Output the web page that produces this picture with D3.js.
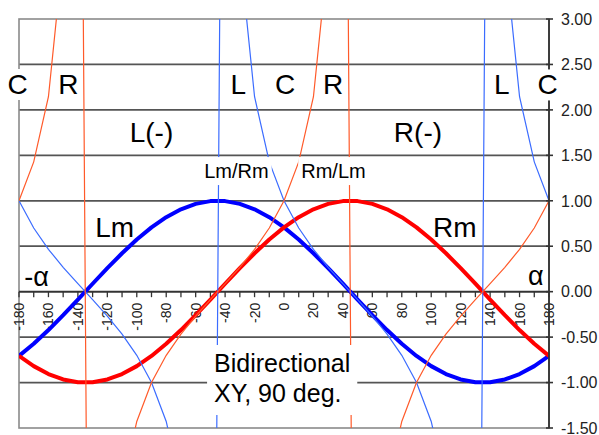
<!DOCTYPE html>
<html>
<head>
<meta charset="utf-8">
<script src="https://cdn.jsdelivr.net/npm/d3@7"></script>
<style>
  html, body { margin: 0; padding: 0; background: #fff; }
  svg { display: block; font-family: "Liberation Sans", Arial, Helvetica, sans-serif; }
</style>
</head>
<body>
<svg id="chart" width="599" height="435"></svg>
<script>
// Phase angle (degrees) at which each sample is taken
const angles = [-180, -170, -160, -150, -140, -130, -120, -110, -100, -90,
                -80, -70, -60, -50, -40, -30, -20, -10, 0, 10, 20, 30, 40,
                50, 60, 70, 80, 90, 100, 110, 120, 130, 140, 150, 160, 170, 180];

// Left microphone response
const lm = [-0.7071, -0.5736, -0.4226, -0.2588, -0.0872, 0.0872, 0.2588, 0.4226,
            0.5736, 0.7071, 0.8192, 0.9063, 0.9659, 0.9962, 0.9962, 0.9659,
            0.9063, 0.8192, 0.7071, 0.5736, 0.4226, 0.2588, 0.0872, -0.0872,
            -0.2588, -0.4226, -0.5736, -0.7071, -0.8192, -0.9063, -0.9659,
            -0.9962, -0.9962, -0.9659, -0.9063, -0.8192, -0.7071];

// Right microphone response
const rm = [-0.7071, -0.8192, -0.9063, -0.9659, -0.9962, -0.9962, -0.9659, -0.9063,
            -0.8192, -0.7071, -0.5736, -0.4226, -0.2588, -0.0872, 0.0872, 0.2588,
            0.4226, 0.5736, 0.7071, 0.8192, 0.9063, 0.9659, 0.9962, 0.9962,
            0.9659, 0.9063, 0.8192, 0.7071, 0.5736, 0.4226, 0.2588, 0.0872,
            -0.0872, -0.2588, -0.4226, -0.5736, -0.7071];

// Ratio Lm/Rm
const lmOverRm = [1, 0.7002, 0.4663, 0.2679, 0.0875, -0.0875, -0.2679, -0.4663,
                  -0.7002, -1, -1.4281, -2.1445, -3.7321, -11.4301, 11.4301, 3.7321,
                  2.1445, 1.4281, 1, 0.7002, 0.4663, 0.2679, 0.0875, -0.0875,
                  -0.2679, -0.4663, -0.7002, -1, -1.4281, -2.1445, -3.7321,
                  -11.4301, 11.4301, 3.7321, 2.1445, 1.4281, 1];

// Ratio Rm/Lm
const rmOverLm = [1, 1.4281, 2.1445, 3.7321, 11.4301, -11.4301, -3.7321, -2.1445,
                  -1.4281, -1, -0.7002, -0.4663, -0.2679, -0.0875, 0.0875, 0.2679,
                  0.4663, 0.7002, 1, 1.4281, 2.1445, 3.7321, 11.4301, -11.4301,
                  -3.7321, -2.1445, -1.4281, -1, -0.7002, -0.4663, -0.2679,
                  -0.0875, 0.0875, 0.2679, 0.4663, 0.7002, 1];

// Axis ticks
const xLabelValues = [-180, -160, -140, -120, -100, -80, -60, -40, -20, 0,
                      20, 40, 60, 80, 100, 120, 140, 160, 180];
const xLabelTexts = ["-180", "-160", "-140", "-120", "-100", "-80", "-60", "-40", "-20", "0",
                     "20", "40", "60", "80", "100", "120", "140", "160", "180"];
const yTickValues = [3, 2.5, 2, 1.5, 1, 0.5, 0, -0.5, -1, -1.5];
const yTickTexts = ["3.00", "2.50", "2.00", "1.50", "1.00", "0.50", "0.00", "-0.50", "-1.00", "-1.50"];

const svg = d3.select("#chart");
const x = d3.scaleLinear().domain([-180, 180]).range([19, 549]);
const y = d3.scaleLinear().domain([-1.5, 3]).range([428, 19]);

svg.append("rect").attr("width", 599).attr("height", 435).attr("fill", "#fff");

svg.append("clipPath").attr("id", "plotClip")
  .append("rect")
  .attr("x", x(-180)).attr("y", y(3))
  .attr("width", x(180) - x(-180)).attr("height", y(-1.5) - y(3));

// Horizontal gridlines
svg.append("g")
  .selectAll("line")
  .data(yTickValues.filter(v => v !== 3 && v !== 0 && v !== -1.5))
  .join("line")
  .attr("x1", x(-180)).attr("x2", x(180))
  .attr("y1", d => y(d)).attr("y2", d => y(d))
  .attr("stroke", "#555").attr("stroke-width", 1.7);

// Plot frame
svg.append("rect")
  .attr("x", x(-180)).attr("y", y(3))
  .attr("width", x(180) - x(-180)).attr("height", y(-1.5) - y(3))
  .attr("fill", "none").attr("stroke", "#8a8a8a").attr("stroke-width", 1.6);

// Horizontal axis through zero with minor ticks every 10 degrees
const xAxis = svg.append("g");
xAxis.append("line")
  .attr("x1", x(-180)).attr("x2", x(180))
  .attr("y1", y(0)).attr("y2", y(0))
  .attr("stroke", "#333").attr("stroke-width", 2);
xAxis.selectAll("line.tick")
  .data(angles)
  .join("line").attr("class", "tick")
  .attr("x1", d => x(d)).attr("x2", d => x(d))
  .attr("y1", y(0)).attr("y2", y(0) + 5.5)
  .attr("stroke", "#333").attr("stroke-width", 1.3);
xAxis.selectAll("text")
  .data(xLabelValues)
  .join("text")
  .attr("transform", d => `translate(${x(d)},${y(0) + 11}) rotate(-90)`)
  .attr("text-anchor", "end")
  .attr("dy", "0.36em")
  .attr("font-size", 14)
  .attr("fill", "#222")
  .text((d, i) => xLabelTexts[i]);

// Series
const line = d3.line().x((d, i) => x(angles[i])).y(d => y(d));
const plot = svg.append("g").attr("clip-path", "url(#plotClip)");

plot.append("path").datum(lm).attr("d", line)
  .attr("fill", "none").attr("stroke", "#0000ff").attr("stroke-width", 4)
  .attr("stroke-linejoin", "round");
plot.append("path").datum(rm).attr("d", line)
  .attr("fill", "none").attr("stroke", "#ff0000").attr("stroke-width", 4)
  .attr("stroke-linejoin", "round");
plot.append("path").datum(lmOverRm).attr("d", line)
  .attr("fill", "none").attr("stroke", "#3b6cff").attr("stroke-width", 1.2);
plot.append("path").datum(rmOverLm).attr("d", line)
  .attr("fill", "none").attr("stroke", "#ff5a2a").attr("stroke-width", 1.2);

// Right-hand value axis
const yAxis = svg.append("g");
yAxis.append("line")
  .attr("x1", x(180)).attr("x2", x(180))
  .attr("y1", y(3)).attr("y2", y(-1.5))
  .attr("stroke", "#333").attr("stroke-width", 1.8);
yAxis.selectAll("line.tick")
  .data(yTickValues)
  .join("line").attr("class", "tick")
  .attr("x1", x(180) - 3).attr("x2", x(180) + 4)
  .attr("y1", d => y(d)).attr("y2", d => y(d))
  .attr("stroke", "#333").attr("stroke-width", 1.6);
yAxis.selectAll("text")
  .data(yTickValues)
  .join("text")
  .attr("x", x(180) + 12)
  .attr("y", d => y(d))
  .attr("dy", "0.36em")
  .attr("font-size", 16)
  .attr("fill", "#222")
  .text((d, i) => yTickTexts[i]);

// Annotations (positions in chart units)
const notes = [
  { t: "C",     a: -181, v: 2.175, size: 28, box: true },
  { t: "R",     a: -146.5, v: 2.175, size: 28 },
  { t: "L(-)",  a: -90,  v: 1.65, size: 28 },
  { t: "L",     a: -31,  v: 2.17, size: 28 },
  { t: "C",     a: 0.7,  v: 2.17, size: 28 },
  { t: "R",     a: 33.3, v: 2.17, size: 28 },
  { t: "R(-)",  a: 91,   v: 1.65, size: 28 },
  { t: "L",     a: 148,  v: 2.17, size: 28 },
  { t: "C",     a: 179,  v: 2.17, size: 28, box: true },
  { t: "Lm/Rm", a: -32.3, v: 1.25, size: 20, box: true, pad: [3, 3] },
  { t: "Rm/Lm", a: 33.6, v: 1.25, size: 20, box: true, pad: [3, 3] },
  { t: "Lm",    a: -115, v: 0.60, size: 28 },
  { t: "Rm",    a: 116,  v: 0.60, size: 28 },
  { t: "-\u03b1", a: -168, v: 0.062, size: 27 },
  { t: "\u03b1",  a: 171,  v: 0.073, size: 27 }
];

const noteLayer = svg.append("g");
notes.forEach(n => {
  const g = noteLayer.append("g");
  const txt = g.append("text")
    .attr("x", x(n.a)).attr("y", y(n.v))
    .attr("text-anchor", "middle")
    .attr("font-size", n.size)
    .attr("fill", "#000")
    .text(n.t);
  if (n.box) {
    const b = txt.node().getBBox();
    const p = n.pad || [1, 0];
    g.insert("rect", "text")
      .attr("x", b.x - p[0]).attr("y", b.y - p[1])
      .attr("width", b.width + 2 * p[0]).attr("height", b.height + 2 * p[1])
      .attr("fill", "#fff");
  }
});

// Title text box
const title = svg.append("g");
const titleText = title.append("text")
  .attr("font-size", 25)
  .attr("fill", "#000");
titleText.append("tspan").attr("x", x(-47.5)).attr("y", y(-0.884)).text("Bidirectional");
titleText.append("tspan").attr("x", x(-47.5)).attr("y", y(-1.214)).text("XY, 90 deg.");
const tb = titleText.node().getBBox();
title.insert("rect", "text")
  .attr("x", tb.x - 7).attr("y", tb.y - 4)
  .attr("width", tb.width + 14).attr("height", tb.height + 12)
  .attr("fill", "#fff");
</script>
</body>
</html>
